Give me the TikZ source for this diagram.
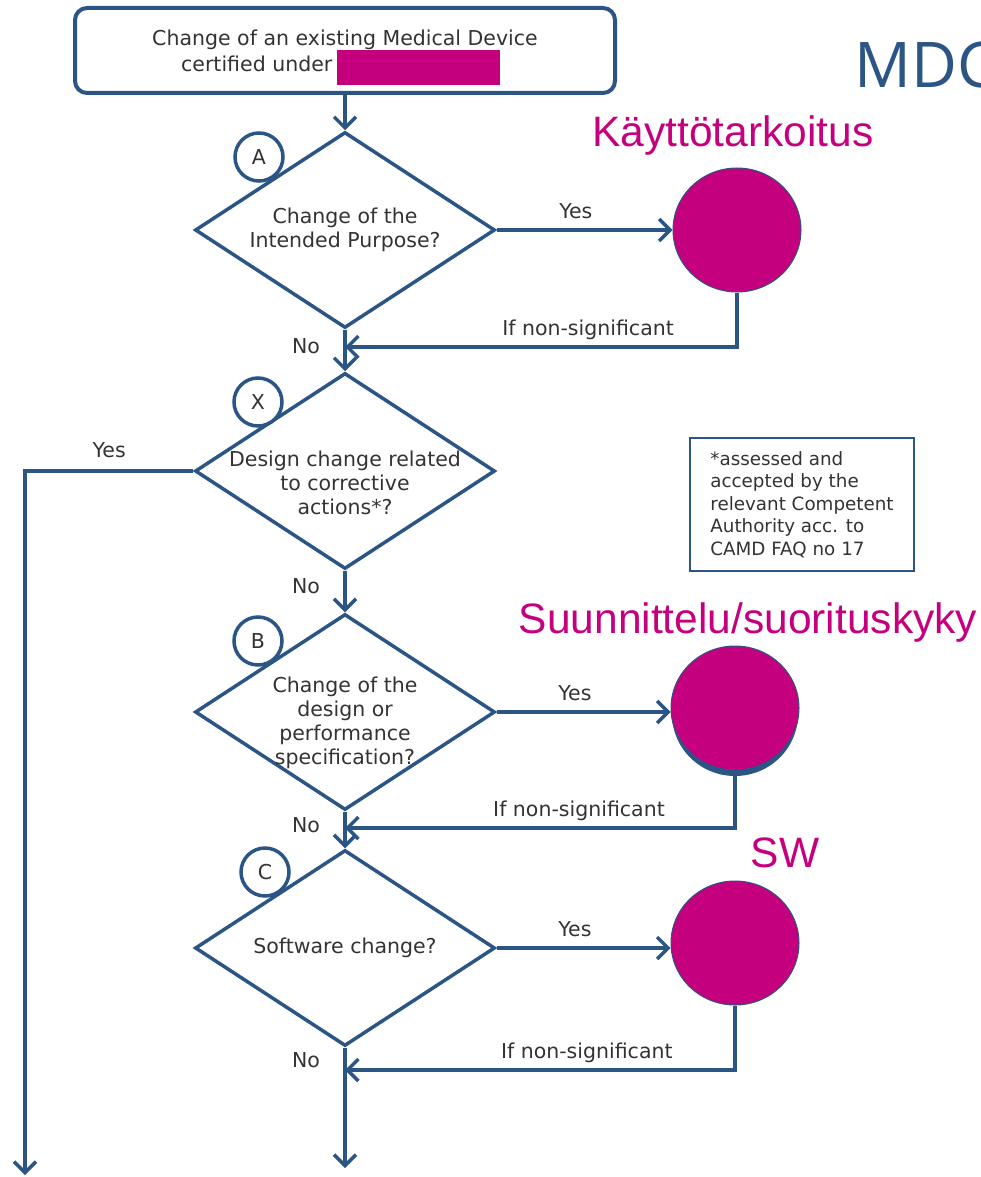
\documentclass[tikz,border=0pt]{standalone}
\usepackage{fontspec}
\setmainfont{DejaVu Sans}
\newfontfamily\labelfont{Liberation Sans}
\newfontfamily\titlefont{Open Sans}
\usetikzlibrary{shapes.geometric,arrows.meta,positioning}
\definecolor{lineblue}{RGB}{43,85,133}
\definecolor{pinkfill}{RGB}{196,0,126}
\definecolor{txtgray}{RGB}{51,51,51}

\begin{document}
\begin{tikzpicture}[x=1pt, y=-1pt,
  box/.style={rectangle, rounded corners=12pt, draw=lineblue, line width=4pt,
              minimum width=540pt, minimum height=85pt, align=center,
              font=\fontsize{20.5}{26}\selectfont, text=txtgray},
  dec/.style={diamond, aspect=1.5, draw=lineblue, line width=3.5pt,
              minimum width=300pt, minimum height=196pt, inner sep=-40pt,
              align=center, font=\fontsize{20.5}{24}\selectfont, text=txtgray},
  tag/.style={circle, draw=lineblue, fill=white, line width=3.5pt,
              minimum size=48pt, inner sep=0pt,
              font=\fontsize{20.5}{24}\selectfont, text=txtgray},
  blob/.style={ellipse, fill=pinkfill, draw=lineblue, line width=1pt,
               minimum width=128pt, minimum height=124pt},
  pinklbl/.style={font=\labelfont\fontsize{42.5}{42.5}\selectfont,
                  text=pinkfill, inner sep=0pt, anchor=base},
  lbl/.style={font=\fontsize{20.5}{24}\selectfont, text=txtgray},
  arr/.style={draw=lineblue, line width=3.5pt,
              -{Straight Barb[length=11pt, width=22pt]}}]
\useasboundingbox (0,0) rectangle (981,1177);
% start box
\node[box] (top) at (345,50.5)
  {Change of an existing Medical Device\\certified under \hphantom{MDD 93/42/EEC)}};
\node[fill=pinkfill, minimum width=163pt, minimum height=35pt, inner sep=0pt]
  (redact) at (418.5,67.5) {};
% decisions
\node[dec] (dA) at (345,230) {Change of the\\Intended Purpose?};
\node[dec] (dX) at (345,471)
  {\rule{0pt}{15pt}\\Design change related\\to corrective\\actions*?};
\node[dec] (dB) at (345,712)
  {\rule{0pt}{13pt}\\Change of the\\design or\\performance\\specification?};
\node[dec] (dC) at (345,948) {Software change?};
\node[tag] (tA) at (259,157) {A};
\node[tag] (tX) at (258,402) {X};
\node[tag] (tB) at (258,641) {B};
\node[tag] (tC) at (265,872) {C};
% outcomes
\node[blob] (kA) at (737,230) {};
\fill[lineblue] (735,714) ellipse[x radius=63pt, y radius=62pt];
\node[blob] (kB) at (735,708) {};
\node[blob] (kC) at (735,943) {};
\node[pinklbl] (lA) at (733,147) {Käyttötarkoitus};
\node[pinklbl] (lB) at (748,633) {Suunnittelu/suorituskyky};
\node[pinklbl] (lC) at (785,867) {SW};
\node[font=\titlefont\fontsize{63}{63}\selectfont, text=lineblue, inner sep=0pt,
      anchor=base west] (mdc) at (854,88) {MDC};
% footnote
\node[draw=lineblue, line width=1.5pt, minimum width=224pt, minimum height=133pt,
      inner xsep=0pt, align=left, font=\fontsize{18.3}{22.5}\selectfont,
      text=txtgray] (note) at (802,504.5)
  {*assessed and\\accepted by the\\relevant Competent\\Authority acc. to\\CAMD FAQ no 17};
% junctions and free ends
\coordinate (jA) at (345,347);
\coordinate (jB) at (345,828);
\coordinate (jC) at (345,1070);
\coordinate (yesend) at (25,1175);
\coordinate (noend) at (345,1168);
% connectors
\draw[arr] (top.south) -- (dA.north);
\draw[arr] (dA.east) -- node[lbl, above=6pt, pos=0.45]{Yes} (dA.east -| kA.west);
\draw[arr] (kA.south) |- node[lbl, above=2pt, pos=0.69]{If non-significant} (jA);
\draw[arr] (dA.south) -- node[lbl, left=20pt, pos=0.4]{No} (dX.north);
\draw[arr] (dX.west) -| node[lbl, above=8pt, pos=0.25]{Yes} (yesend);
\draw[arr] (dX.south) -- node[lbl, left=20pt, pos=0.36]{No} (dB.north);
\draw[arr] (dB.east) -- node[lbl, above=6pt, pos=0.45]{Yes} (dB.east -| kB.west);
\draw[arr] (kB.south) |- node[lbl, above=2pt, pos=0.70]{If non-significant} (jB);
\draw[arr] (dB.south) -- node[lbl, left=20pt, pos=0.36]{No} (dC.north);
\draw[arr] (dC.east) -- node[lbl, above=6pt, pos=0.45]{Yes} (dC.east -| kC.west);
\draw[arr] (kC.south) |- node[lbl, above=2pt, pos=0.69]{If non-significant} (jC);
\draw[arr] (dC.south) -- node[lbl, left=20pt, pos=0.1]{No} (noend);
\end{tikzpicture}
\end{document}
